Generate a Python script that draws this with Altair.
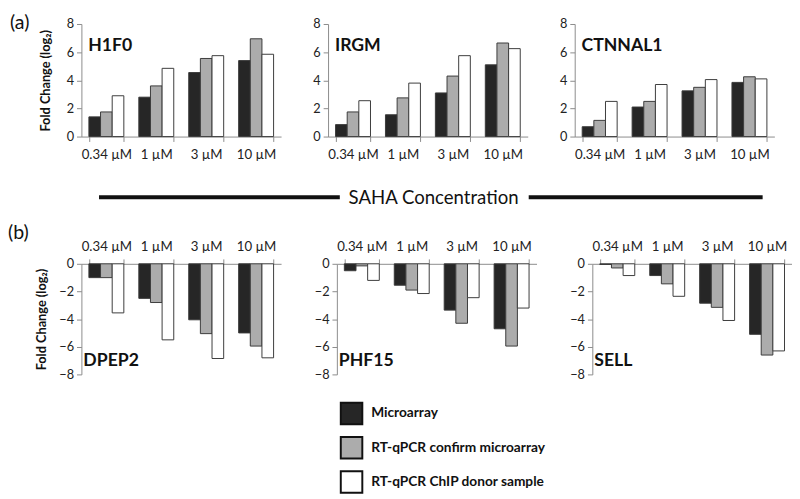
import altair as alt
import pandas as pd

concs = ["0.34 µM", "1 µM", "3 µM", "10 µM"]
series = ["Microarray", "RT-qPCR confirm microarray", "RT-qPCR ChIP donor sample"]
colors = ["#262626", "#acacac", "#ffffff"]

genes_top = ["H1F0", "IRGM", "CTNNAL1"]
genes_bottom = ["DPEP2", "PHF15", "SELL"]

# values per gene: [Microarray, RT-qPCR confirm, RT-qPCR ChIP donor], each over concs
h1f0_micro = [1.4, 2.8, 4.55, 5.4]
h1f0_confirm = [1.75, 3.6, 5.55, 6.95]
h1f0_donor = [2.9, 4.85, 5.75, 5.85]

irgm_micro = [0.85, 1.55, 3.1, 5.1]
irgm_confirm = [1.75, 2.75, 4.3, 6.65]
irgm_donor = [2.55, 3.8, 5.75, 6.25]

ctnnal1_micro = [0.7, 2.1, 3.25, 3.85]
ctnnal1_confirm = [1.15, 2.5, 3.5, 4.25]
ctnnal1_donor = [2.5, 3.7, 4.05, 4.1]

dpep2_micro = [-1.0, -2.5, -4.05, -5.0]
dpep2_confirm = [-1.0, -2.8, -5.05, -5.95]
dpep2_donor = [-3.55, -5.5, -6.85, -6.8]

phf15_micro = [-0.5, -1.55, -3.35, -4.7]
phf15_confirm = [-0.15, -1.9, -4.3, -5.95]
phf15_donor = [-1.2, -2.15, -2.45, -3.2]

sell_micro = [-0.05, -0.85, -2.85, -5.1]
sell_confirm = [-0.3, -1.45, -3.15, -6.6]
sell_donor = [-0.85, -2.35, -4.1, -6.3]

values = {
    "H1F0": [h1f0_micro, h1f0_confirm, h1f0_donor],
    "IRGM": [irgm_micro, irgm_confirm, irgm_donor],
    "CTNNAL1": [ctnnal1_micro, ctnnal1_confirm, ctnnal1_donor],
    "DPEP2": [dpep2_micro, dpep2_confirm, dpep2_donor],
    "PHF15": [phf15_micro, phf15_confirm, phf15_donor],
    "SELL": [sell_micro, sell_confirm, sell_donor],
}

FONT = "Lato"
Y_TITLE = "Fold Change (log₂)"


def gene_df(gene):
    rows = []
    for s, vals in zip(series, values[gene]):
        for c, v in zip(concs, vals):
            rows.append({"conc": c, "series": s, "value": v})
    return pd.DataFrame(rows)


def panel(gene, top, first, tag):
    df = gene_df(gene)
    domain = [0, 8] if top else [-8, 0]
    ticks = [0, 2, 4, 6, 8] if top else [0, -2, -4, -6, -8]
    y_axis_kwargs = dict(values=ticks, grid=False, tickSize=5, domainColor="#8a8a8a",
                         tickColor="#8a8a8a", labelFontSize=13, labelColor="#222",
                         labelFont=FONT, labelPadding=3)
    if first:
        y_axis = alt.Axis(title=Y_TITLE, titleFont=FONT, titleFontSize=13,
                          titleFontWeight="bold", titleColor="#111",
                          titleAngle=270, titleBaseline="middle",
                          titleX=-37 if top else -41,
                          **y_axis_kwargs)
    else:
        y_axis = alt.Axis(title=None, **y_axis_kwargs)

    bars = alt.Chart(df).mark_bar(stroke="#3a3a3a", strokeWidth=1).encode(
        x=alt.X("conc:N", sort=concs,
                scale=alt.Scale(paddingInner=0.3, paddingOuter=0.15),
                axis=alt.Axis(orient="bottom" if top else "top", title=None, labelAngle=0,
                              tickBand="extent", tickSize=5, domainColor="#8a8a8a",
                              tickColor="#8a8a8a", labelFontSize=13.5, labelColor="#222",
                              labelFont=FONT, labelPadding=6)),
        xOffset=alt.XOffset("series:N", sort=series,
                            scale=alt.Scale(domain=series, paddingInner=0, paddingOuter=0)),
        y=alt.Y("value:Q", scale=alt.Scale(domain=domain, nice=False), axis=y_axis),
        color=alt.Color("series:N", sort=series,
                        scale=alt.Scale(domain=series, range=colors),
                        legend=alt.Legend(title=None, orient="none", legendX=264, legendY=386,
                                          symbolType="square", symbolSize=484,
                                          symbolStrokeColor="#111", symbolStrokeWidth=2,
                                          labelFont=FONT, labelFontSize=14,
                                          labelFontWeight="bold", labelColor="#111",
                                          labelLimit=400,
                                          rowPadding=5, labelOffset=8, padding=0)),
    )

    gdf = pd.DataFrame({"gene": [gene]})
    if top:
        label = alt.Chart(gdf).mark_text(font=FONT, fontSize=18, fontWeight="bold",
                                         align="left", baseline="alphabetic",
                                         color="#111").encode(
            text="gene:N", x=alt.value(7), y=alt.value(28))
    else:
        label = alt.Chart(gdf).mark_text(font=FONT, fontSize=18, fontWeight="bold",
                                         align="left", baseline="alphabetic",
                                         color="#111").encode(
            text="gene:N", x=alt.value(2), y=alt.value(104))
    layers = [bars, label]
    if tag is not None:
        tdf = pd.DataFrame({"tag": [tag]})
        tag_mark = alt.Chart(tdf).mark_text(font=FONT, fontSize=20, align="left",
                                            baseline="middle", color="#111").encode(
            text="tag:N",
            x=alt.value(-73 if top else -75),
            y=alt.value(-1 if top else -31))
        layers.append(tag_mark)
    height = 115 if top else 113
    return alt.layer(*layers).properties(width=204, height=height)


row1 = alt.hconcat(
    panel("H1F0", True, True, "(a)"),
    panel("IRGM", True, False, None),
    panel("CTNNAL1", True, False, None),
    spacing=32,
)
row2 = alt.hconcat(
    panel("DPEP2", False, True, "(b)"),
    panel("PHF15", False, False, None),
    panel("SELL", False, False, None),
    spacing=33,
)

mid_text = ["SAHA Concentration"]
mdf = pd.DataFrame({"t": mid_text})
mid_base = alt.Chart(mdf)
line_left = mid_base.mark_rule(strokeWidth=4, color="#111").encode(
    x=alt.value(18), x2=alt.value(264), y=alt.value(37))
line_right = mid_base.mark_rule(strokeWidth=4, color="#111").encode(
    x=alt.value(457), x2=alt.value(696), y=alt.value(37))
mid_label = mid_base.mark_text(font=FONT, fontSize=19, align="left", baseline="middle",
                               color="#111").encode(
    text="t:N", x=alt.value(273), y=alt.value(38))
middle = alt.layer(line_left, line_right, mid_label).properties(width=700, height=64)

chart = alt.vconcat(row1, middle, row2, spacing=0).properties(
    padding={"left": 0, "top": 0, "right": 0, "bottom": 0},
    background="white",
).configure_view(strokeWidth=0, stroke=None)

chart.save("out.html", embed_options={"renderer": "svg", "actions": False})
